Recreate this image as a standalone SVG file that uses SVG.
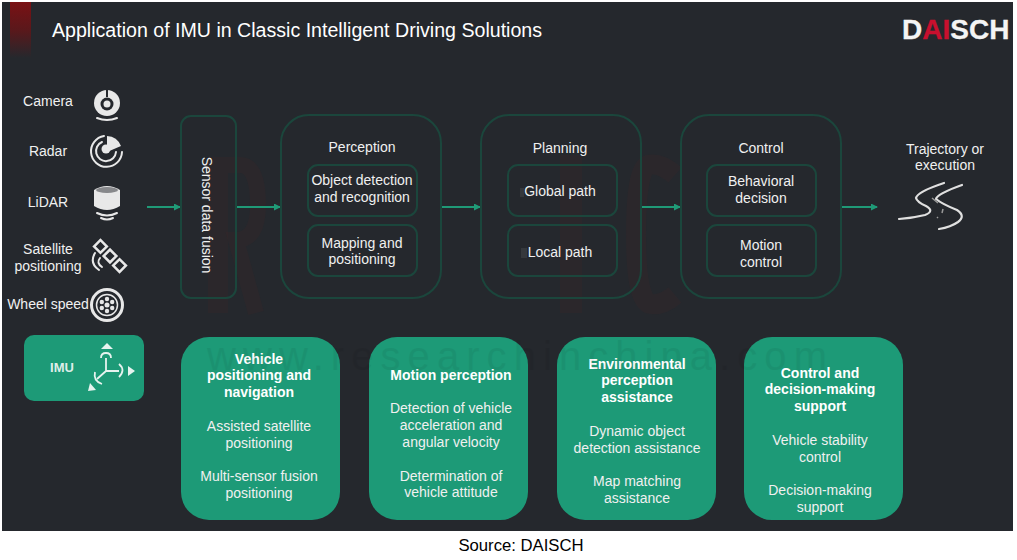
<svg xmlns="http://www.w3.org/2000/svg" width="1017" height="560" viewBox="0 0 1017 560">
<style>
text{font-family:"Liberation Sans",Arial,sans-serif;fill:#f0f0f0;font-size:14px;text-anchor:middle}
.b{font-weight:bold;fill:#fff}
.o{fill:none;stroke:#1b463c;stroke-width:2}
.c{fill:none;stroke:#1f9a77;stroke-width:2}
.g{fill:#1d9a77}
.i{fill:none;stroke:#e8e8e8;stroke-width:2;stroke-linecap:round}
.f{fill:#e8e8e8}
.m{fill:#4a2528;opacity:.18}
.n{fill:none;stroke:#4a2528;opacity:.18}
.w{font-size:40px;fill:#000;opacity:.05}
</style>
<defs>
<marker id="a" markerWidth="8" markerHeight="8" refX="6" refY="3.500" orient="auto" markerUnits="userSpaceOnUse"><path d="M0 0L7 3.500L0 7Z" fill="#1f9a77"/></marker>
<linearGradient id="r" x1="0" y1="0" x2="0" y2="1"><stop offset="0" stop-color="#7a1114"/><stop offset=".5" stop-color="#5a181b"/><stop offset="1" stop-color="#25282d"/></linearGradient>
</defs>
<rect width="1017" height="560" fill="#fff"/>
<rect x="2" y="2" width="1011" height="529" fill="#25282d"/>
<rect x="10" y="2" width="21" height="56" fill="url(#r)"/>
<g id="watermark-shapes">
<path class="m" d="M208 157H228V313H208Z"/><path class="n" stroke-width="16" d="M228 165H240Q258 165 258 205Q258 240 236 240L256 313"/>
<rect class="m" x="560" y="155" width="22" height="158"/>
<path class="n" stroke-width="20" d="M675 175Q660 162 648 165Q636 170 636 235Q636 300 650 304Q662 306 675 295"/>
</g>
<text x="297" y="37" style="font-size:19.600px;fill:#fff">Application of IMU in Classic Intelligent Driving Solutions</text>
<g id="logo"><text x="902" y="39" style="text-anchor:start;font-size:28px;font-weight:bold;fill:#f4f4f4;stroke:#f4f4f4;stroke-width:.3">D<tspan style="fill:#c8102e;stroke:#c8102e">AI</tspan>SCH</text></g>
<g id="connectors">
<path class="c" marker-end="url(#a)" d="M147 207H180"/>
<path class="c" marker-end="url(#a)" d="M237 207H280"/>
<path class="c" marker-end="url(#a)" d="M441 207H480"/>
<path class="c" marker-end="url(#a)" d="M641 207H680"/>
<path class="c" marker-end="url(#a)" d="M840 207H877"/>
</g>
<g id="camera"><text x="48" y="106">Camera</text>
<circle cx="107" cy="103" r="13" class="f"/><circle cx="107" cy="104" r="6.500" fill="#25282d"/><circle cx="107" cy="104" r="3.500" class="f"/><path d="M107 90V97" stroke="#25282d" stroke-width="2"/><path class="i" d="M97 118Q107 122 117 118"/></g>
<g id="radar"><text x="48" y="156">Radar</text>
<path class="i" d="M104 136A15.500 15.500 0 1 0 122 152"/><path class="i" d="M102 142A10 10 0 1 0 116 152"/>
<path class="f" d="M107 136A16 16 0 0 1 121 146L107 152Z"/><circle cx="106" cy="149" r="4.500" class="f"/></g>
<g id="lidar"><text x="48" y="207">LiDAR</text>
<path class="f" d="M94 190Q107 182 120 190V206Q107 214 94 206Z"/><ellipse cx="107" cy="190" rx="11" ry="3" fill="#25282d" opacity=".5"/>
<path class="i" d="M97 213Q107 218 117 213"/><path class="i" d="M101 218Q107 221 113 218"/></g>
<g id="satellite"><text x="48" y="254">Satellite</text><text x="48" y="271">positioning</text>
<g transform="rotate(45 110 256)" fill="none" stroke="#e8e8e8" stroke-width="2.500"><rect x="92" y="251.500" width="9" height="9"/><rect x="105.500" y="251.500" width="9" height="9"/><rect x="119" y="251.500" width="9" height="9"/></g>
<path class="i" d="M95 253Q89 263 99 270"/><path class="i" d="M100 258Q96 263 102 267"/></g>
<g id="wheel"><text x="48" y="309">Wheel speed</text>
<circle cx="107" cy="305" r="15.500" fill="none" stroke="#e8e8e8" stroke-width="3"/><circle cx="107" cy="305" r="10.500" fill="none" stroke="#e8e8e8" stroke-width="1.500"/>
<g class="f"><circle cx="107" cy="305" r="2.500"/><circle cx="107" cy="299" r="2.200"/><circle cx="107" cy="311" r="2.200"/><circle cx="101.800" cy="302" r="2.200"/><circle cx="112.200" cy="302" r="2.200"/><circle cx="101.800" cy="308" r="2.200"/><circle cx="112.200" cy="308" r="2.200"/></g></g>
<g id="imu"><rect x="24" y="335" width="120" height="66" rx="10" class="g"/>
<text x="62" y="372" style="font-size:13px;font-weight:bold;fill:#dfeee9">IMU</text>
<g fill="none" stroke="#e6f3ef" stroke-width="1.800"><path d="M106 371V358M106 371H119M106 371L97 379"/><path d="M101 358Q101 353 106 353Q111 353 111 358"/><path d="M119 364Q126 370 119 377"/><path d="M95 372Q93 381 102 384"/></g>
<g fill="#e6f3ef"><path d="M101 349L107 343L113 349Z"/><path d="M128 366L135 371L128 376Z"/><path d="M88 391L90 383L96 390Z"/></g></g>
<g id="sensor-fusion"><rect x="181" y="116" width="55" height="182" rx="10" class="o"/>
<text transform="translate(202 215) rotate(90)">Sensor data fusion</text></g>
<g id="perception"><rect x="281" y="115" width="160" height="183" rx="28" class="o"/>
<text x="362" y="152">Perception</text>
<rect x="308" y="165" width="109" height="51" rx="10" class="o"/><text x="362" y="185">Object detection</text><text x="362" y="202">and recognition</text>
<rect x="308" y="225" width="109" height="51" rx="10" class="o"/><text x="362" y="248">Mapping and</text><text x="362" y="264">positioning</text></g>
<g id="planning"><rect x="481" y="115" width="160" height="183" rx="28" class="o"/>
<text x="560" y="153">Planning</text>
<rect x="508" y="165" width="109" height="51" rx="10" class="o"/><rect x="520" y="188" width="4" height="9" fill="#35383c"/><text x="560" y="196">Global path</text>
<rect x="508" y="225" width="109" height="51" rx="10" class="o"/><rect x="521" y="248" width="6" height="10" fill="#35383c"/><text x="560" y="257">Local path</text></g>
<g id="control"><rect x="681" y="115" width="160" height="183" rx="28" class="o"/>
<text x="761" y="153">Control</text>
<rect x="707" y="165" width="109" height="51" rx="10" class="o"/><text x="761" y="186">Behavioral</text><text x="761" y="203">decision</text>
<rect x="707" y="225" width="109" height="51" rx="10" class="o"/><text x="761" y="250">Motion</text><text x="761" y="267">control</text></g>
<g id="trajectory"><text x="945" y="154">Trajectory or</text><text x="945" y="170">execution</text>
<path d="M944 183Q917 192 916 198Q917 202 926 206Q935 211 925 215Q913 218 899 219M962 185Q937 194 936 199Q942 204 957 210Q966 216 958 222Q951 227 939 229" fill="none" stroke="#e0e0e0" stroke-width="2.200" stroke-linecap="round"/>
<path d="M932 198L938 203M943 209L942 213M938 217L937 218" stroke="#999" stroke-width="1.500" fill="none"/></g>
<g id="card-1"><rect x="181" y="337" width="159" height="183" rx="28" class="g"/>
<text class="b" x="259" y="364">Vehicle</text><text class="b" x="259" y="380">positioning and</text><text class="b" x="259" y="397">navigation</text>
<text x="259" y="431">Assisted satellite</text><text x="259" y="448">positioning</text><text x="259" y="481">Multi-sensor fusion</text><text x="259" y="498">positioning</text></g>
<g id="card-2"><rect x="369" y="337" width="159" height="183" rx="28" class="g"/>
<text class="b" x="451" y="380">Motion perception</text>
<text x="451" y="413">Detection of vehicle</text><text x="451" y="430">acceleration and</text><text x="451" y="447">angular velocity</text><text x="451" y="481">Determination of</text><text x="451" y="497">vehicle attitude</text></g>
<g id="card-3"><rect x="557" y="337" width="159" height="183" rx="28" class="g"/>
<text class="b" x="637" y="369">Environmental</text><text class="b" x="637" y="385">perception</text><text class="b" x="637" y="402">assistance</text>
<text x="637" y="436">Dynamic object</text><text x="637" y="453">detection assistance</text><text x="637" y="486">Map matching</text><text x="637" y="503">assistance</text></g>
<g id="card-4"><rect x="744" y="337" width="159" height="183" rx="28" class="g"/>
<text class="b" x="820" y="378">Control and</text><text class="b" x="820" y="394">decision-making</text><text class="b" x="820" y="411">support</text>
<text x="820" y="445">Vehicle stability</text><text x="820" y="462">control</text><text x="820" y="495">Decision-making</text><text x="820" y="512">support</text></g>
<text class="w" x="207" y="370" textLength="620" style="text-anchor:start">www.researchinchina.com</text>
<text x="521" y="551" style="font-size:16.700px;fill:#000">Source: DAISCH</text>
</svg>
